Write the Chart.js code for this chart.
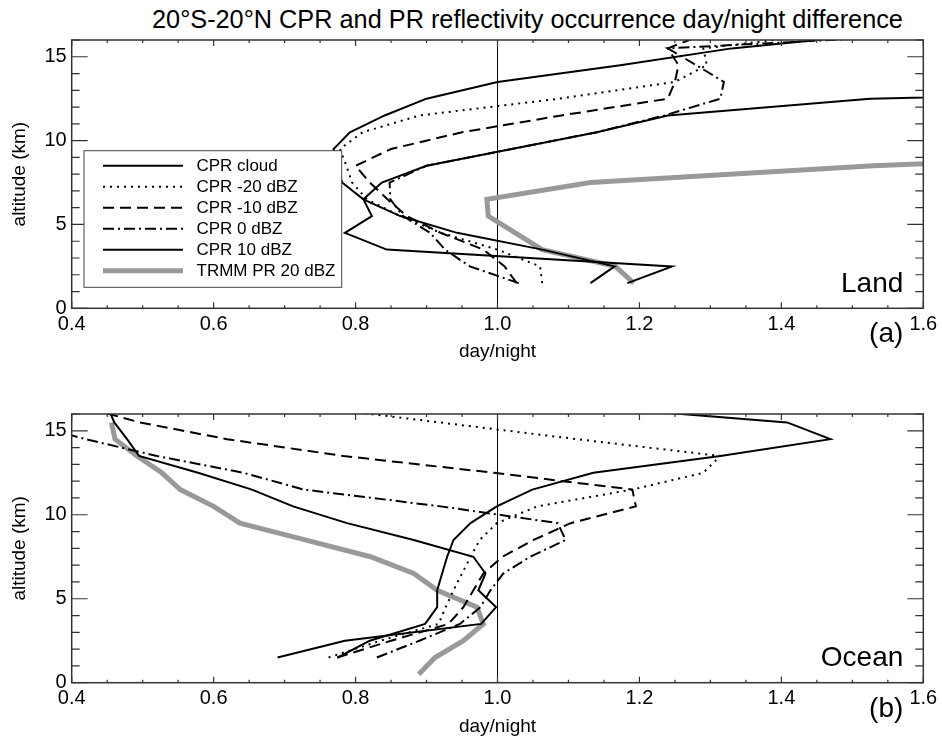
<!DOCTYPE html>
<html>
<head>
<meta charset="utf-8">
<script src="https://cdn.jsdelivr.net/npm/chart.js@4.4.1/dist/chart.umd.min.js"></script>
<style>
  body { margin: 0; background: #fff; }
  #wrap { position: relative; width: 942px; height: 736px; font-family: "Liberation Sans", Arial, sans-serif; }
  #title { position: absolute; left: 152px; top: 5px; font-size: 25.3px; white-space: nowrap; color: #000; }
  canvas { position: absolute; left: 0; }
</style>
</head>
<body>
<div id="wrap">
  <div id="title">20°S-20°N CPR and PR reflectivity occurrence day/night difference</div>
  <canvas id="land" width="942" height="370" style="top:0"></canvas>
  <canvas id="ocean" width="942" height="366" style="top:370px"></canvas>
</div>
<script>
// altitude levels (km), shared by every profile
const heights = [0.5, 1.5, 2.5, 3.5, 4.5, 5.5, 6.5, 7.5, 8.5, 9.5, 10.5, 11.5, 12.5, 13.5, 14.5, 15.5, 16.5];

const seriesNames = ['CPR cloud', 'CPR -20 dBZ', 'CPR -10 dBZ', 'CPR 0 dBZ', 'CPR 10 dBZ', 'TRMM PR 20 dBZ'];

// day/night ratio, Land
const landCloud = [null, 1.131, 1.165, 1.063, 0.943, 0.863, 0.811, 0.781, 0.774, 0.769, 0.792, 0.841, 0.90, 1.0, 1.173, 1.33, 1.57];
const landM20   = [null, 1.063, 1.06, 1.0, 0.92, 0.863, 0.816, 0.795, 0.787, 0.778, 0.81, 0.89, 1.087, 1.25, 1.295, 1.29, 1.49];
const landM10   = [null, 1.027, 1.01, 0.98, 0.92, 0.872, 0.845, 0.82, 0.80, 0.85, 0.95, 1.09, 1.24, 1.25, 1.255, 1.24, 1.30];
const land0     = [null, 1.03, 0.961, 0.926, 0.905, 0.867, 0.849, 0.848, 0.90, 1.02, 1.14, 1.235, 1.314, 1.319, 1.28, 1.24, 1.70];
const land10    = [null, 1.183, 1.246, 0.844, 0.785, 0.823, 0.811, 0.837, 0.90, 1.02, 1.14, 1.24, 1.525, 2.5, null, null, null];
const landPR    = [null, 1.192, 1.166, 1.063, 1.025, 0.987, 0.985, 1.131, 1.53, 2.1, null, null, null, null, null, null, null];

// day/night ratio, Ocean
const oceanCloud = [null, 0.775, 0.82, 0.898, 0.915, 0.915, 0.922, 0.929, 0.938, 0.962, 0.999, 1.049, 1.135, 1.314, 1.469, 1.408, 1.11];
const oceanM20   = [null, 0.762, 0.835, 0.917, 0.927, 0.938, 0.95, 0.962, 0.975, 0.999, 1.056, 1.19, 1.29, 1.314, 1.112, 0.918, 0.724];
const oceanM10   = [null, 0.774, 0.85, 0.931, 0.952, 0.966, 0.98, 1.007, 1.051, 1.103, 1.195, 1.19, 0.995, 0.783, 0.619, 0.496, 0.41];
const ocean0     = [null, 0.83, 0.89, 0.947, 0.976, 0.99, 1.008, 1.046, 1.096, 1.085, 0.92, 0.727, 0.642, 0.52, 0.42, 0.33, null];
const ocean10    = [null, 0.69, 0.785, 0.977, 0.998, 0.973, 0.983, 0.966, 0.882, 0.788, 0.712, 0.654, 0.578, 0.495, 0.478, 0.46, 0.45];
const oceanPR    = [0.889, 0.912, 0.952, 0.98, 0.971, 0.915, 0.882, 0.821, 0.729, 0.637, 0.60, 0.553, 0.527, 0.492, 0.461, 0.456, null];

const xTicks = [0.4, 0.6, 0.8, 1.0, 1.2, 1.4, 1.6];
const yTicks = [0, 5, 10, 15];

// line looks, same order as seriesNames
const styles = [
  { color: '#000', width: 2, dash: [] },
  { color: '#000', width: 2, dash: [2, 5] },
  { color: '#000', width: 2, dash: [11, 6] },
  { color: '#000', width: 2, dash: [11, 4, 2, 4] },
  { color: '#000', width: 2, dash: [] },
  { color: '#999', width: 5, dash: [] }
];

const FONT = '"Liberation Sans", Arial, sans-serif';

function pts(xs) {
  const out = [];
  heights.forEach((h, i) => { if (xs[i] != null) out.push({ x: xs[i], y: h }); });
  return out;
}

function makeDatasets(list) {
  return list.map((xs, i) => ({
    label: seriesNames[i],
    data: pts(xs),
    showLine: true,
    pointRadius: 0,
    borderColor: styles[i].color,
    borderWidth: styles[i].width,
    borderDash: styles[i].dash,
    fill: false,
    tension: 0,
    clip: 0
  }));
}

// IDL-like frame: box, inward ticks on all 4 sides, ratio 1 line, panel labels, legend
const framePlugin = {
  id: 'frame',
  beforeDatasetsDraw(chart) {
    const { ctx, chartArea: a, scales: { x } } = chart;
    const px = x.getPixelForValue(1.0);
    ctx.save();
    ctx.strokeStyle = '#000';
    ctx.lineWidth = 1;
    ctx.beginPath();
    ctx.moveTo(px, a.top);
    ctx.lineTo(px, a.bottom);
    ctx.stroke();
    ctx.restore();
  },
  afterDatasetsDraw(chart, args, opts) {
    const { ctx, chartArea: a, scales: { x, y } } = chart;
    ctx.save();
    ctx.strokeStyle = '#333';
    ctx.lineWidth = 1.5;
    ctx.strokeRect(a.left, a.top, a.right - a.left, a.bottom - a.top);

    ctx.lineWidth = 1.2;
    ctx.beginPath();
    for (let i = 0; i <= 24; i++) {
      const px = x.getPixelForValue(0.4 + i * 0.05);
      const len = i % 4 === 0 ? 6 : 3;
      ctx.moveTo(px, a.bottom); ctx.lineTo(px, a.bottom - len);
      ctx.moveTo(px, a.top); ctx.lineTo(px, a.top + len);
    }
    for (let v = 0; v <= 16; v++) {
      const py = y.getPixelForValue(v);
      const len = v % 5 === 0 ? 16 : 8;
      ctx.moveTo(a.left, py); ctx.lineTo(a.left + len, py);
      ctx.moveTo(a.right, py); ctx.lineTo(a.right - len, py);
    }
    ctx.stroke();

    ctx.fillStyle = '#000';
    ctx.font = '28px ' + FONT;
    ctx.textAlign = 'right';
    ctx.textBaseline = 'alphabetic';
    ctx.fillText(opts.label, a.right - 20, a.bottom - 16.6);
    ctx.fillText(opts.letter, a.right - 20, a.bottom + 34);

    if (opts.legend) {
      const lx = a.left + 12.3, ly = a.top + 110.7, lw = 257.7, lh = 136.6;
      ctx.fillStyle = '#fff';
      ctx.fillRect(lx, ly, lw, lh);
      ctx.strokeStyle = '#444';
      ctx.lineWidth = 1;
      ctx.strokeRect(lx, ly, lw, lh);
      ctx.font = '17px ' + FONT;
      ctx.textAlign = 'left';
      ctx.textBaseline = 'middle';
      seriesNames.forEach((name, i) => {
        const ry = ly + 15 + i * 21;
        ctx.strokeStyle = styles[i].color;
        ctx.lineWidth = styles[i].width;
        ctx.setLineDash(styles[i].dash);
        ctx.beginPath();
        ctx.moveTo(lx + 19, ry);
        ctx.lineTo(lx + 99, ry);
        ctx.stroke();
        ctx.setLineDash([]);
        ctx.fillStyle = '#000';
        ctx.fillText(name, lx + 112.5, ry + 1);
      });
    }
    ctx.restore();
  }
};

function makeOptions(padTop, xHeight, titlePad, label, letter, legend) {
  return {
    responsive: false,
    animation: false,
    layout: { padding: { top: padTop, right: 18.7, left: 0, bottom: 0 } },
    plugins: {
      legend: { display: false },
      tooltip: { enabled: false },
      frame: { label: label, letter: letter, legend: legend }
    },
    scales: {
      x: {
        type: 'linear',
        min: 0.4, max: 1.6,
        afterBuildTicks: s => { s.ticks = xTicks.map(v => ({ value: v })); },
        afterFit: s => { s.height = xHeight; },
        ticks: {
          callback: v => Number(v).toFixed(1),
          font: { family: FONT, size: 20 },
          color: '#000',
          padding: 4,
          maxRotation: 0,
          autoSkip: false
        },
        grid: { display: false, drawTicks: false },
        border: { display: false },
        title: { display: true, text: 'day/night', color: '#000', font: { family: FONT, size: 19, lineHeight: 1 }, padding: { top: 0, bottom: titlePad } }
      },
      y: {
        type: 'linear',
        min: 0, max: 16,
        afterBuildTicks: s => { s.ticks = yTicks.map(v => ({ value: v })); },
        afterFit: s => { s.width = 71.7; },
        ticks: {
          font: { family: FONT, size: 20 },
          color: '#000',
          padding: 5
        },
        grid: { display: false, drawTicks: false },
        border: { display: false },
        title: { display: true, text: 'altitude (km)', color: '#000', font: { family: FONT, size: 19, lineHeight: 1 }, padding: { top: 10.5, bottom: 0 } }
      }
    }
  };
}

new Chart(document.getElementById('land').getContext('2d'), {
  type: 'scatter',
  data: { datasets: makeDatasets([landCloud, landM20, landM10, land0, land10, landPR]) },
  options: makeOptions(40, 61.7, 8.5, 'Land', '(a)', true),
  plugins: [framePlugin]
});

new Chart(document.getElementById('ocean').getContext('2d'), {
  type: 'scatter',
  data: { datasets: makeDatasets([oceanCloud, oceanM20, oceanM10, ocean0, ocean10, oceanPR]) },
  options: makeOptions(44, 53.3, 0, 'Ocean', '(b)', false),
  plugins: [framePlugin]
});
</script>
</body>
</html>
